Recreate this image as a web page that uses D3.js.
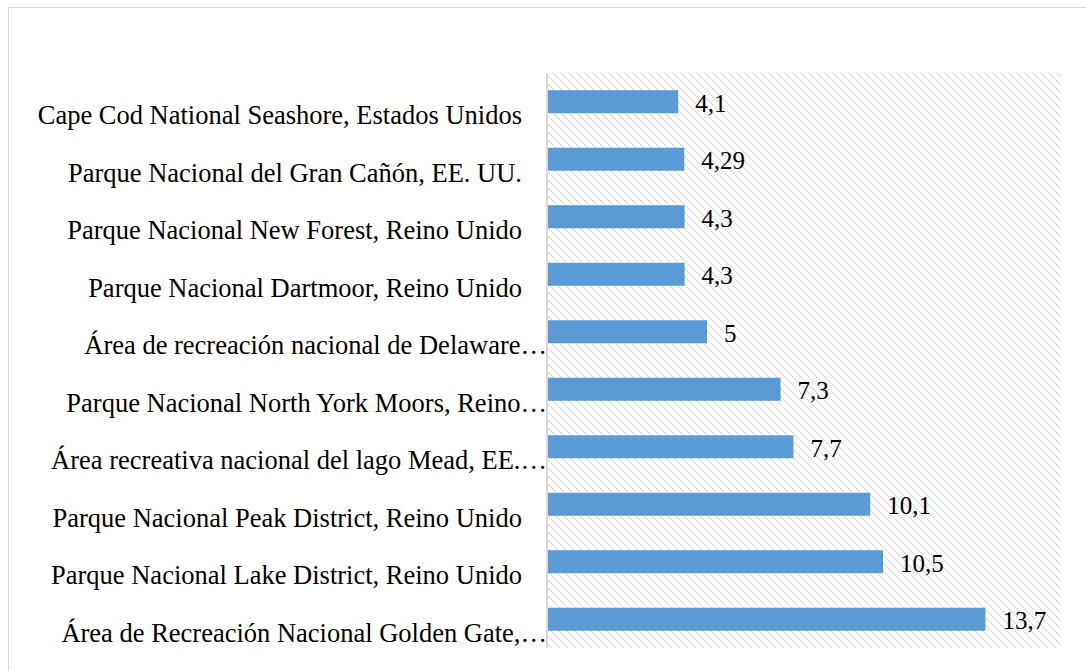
<!DOCTYPE html>
<html>
<head>
<meta charset="utf-8">
<script src="https://cdn.jsdelivr.net/npm/d3@7"></script>
<style>
  html, body { margin: 0; padding: 0; background: #fff; }
  svg { display: block; }
  text { font-family: "Liberation Serif", "Times New Roman", serif; fill: #000; }
</style>
</head>
<body>
<svg id="chart" width="1086" height="671"></svg>
<script>
// Parks by annual visitors (millions), top to bottom as drawn
const categories = [
  "Cape Cod National Seashore, Estados Unidos",
  "Parque Nacional del Gran Cañón, EE. UU.",
  "Parque Nacional New Forest, Reino Unido",
  "Parque Nacional Dartmoor, Reino Unido",
  "Área de recreación nacional de Delaware…",
  "Parque Nacional North York Moors, Reino…",
  "Área recreativa nacional del lago Mead, EE.…",
  "Parque Nacional Peak District, Reino Unido",
  "Parque Nacional Lake District, Reino Unido",
  "Área de Recreación Nacional Golden Gate,…"
];
const values = [4.1, 4.29, 4.3, 4.3, 5, 7.3, 7.7, 10.1, 10.5, 13.7];
const valueLabels = ["4,1", "4,29", "4,3", "4,3", "5", "7,3", "7,7", "10,1", "10,5", "13,7"];
const xDomain = [0, 16];

const svg = d3.select("#chart");

// chart frame
svg.append("rect")
  .attr("x", 8.5).attr("y", 7.5)
  .attr("width", 1090).attr("height", 680)
  .attr("fill", "#fff")
  .attr("stroke", "#d9d9d9").attr("stroke-width", 1);

const plot = { left: 547, right: 1061, top: 73, bottom: 648 };

const x = d3.scaleLinear().domain(xDomain).range([plot.left, plot.left + 32 * xDomain[1]]);
const y = d3.scaleBand().domain(categories).range([plot.top, plot.bottom]).paddingInner(0.6).paddingOuter(0.3);

// diagonal hatch fill of the plot area
const defs = svg.append("defs");
const pat = defs.append("pattern")
  .attr("id", "hatch")
  .attr("patternUnits", "userSpaceOnUse")
  .attr("width", 8).attr("height", 8);
pat.append("rect").attr("width", 8).attr("height", 8).attr("fill", "#fff");
pat.append("path")
  .attr("d", "M-2,-2 L10,10 M-2,6 L2,10 M6,-2 L10,2")
  .attr("stroke", "#d4d4d4")
  .attr("stroke-width", 1.4)
  .attr("stroke-dasharray", "2,1.2");

svg.append("rect")
  .attr("x", plot.left).attr("y", plot.top)
  .attr("width", plot.right - plot.left).attr("height", plot.bottom - plot.top)
  .attr("fill", "url(#hatch)");

// bars
svg.append("g").selectAll("rect")
  .data(values)
  .join("rect")
  .attr("x", x(0))
  .attr("y", (d, i) => y(categories[i]))
  .attr("width", d => x(d) - x(0))
  .attr("height", y.bandwidth())
  .attr("fill", "#5b9bd5");

// category axis
const yAxis = d3.axisLeft(y).tickSize(0).tickPadding(0);
const gAxis = svg.append("g")
  .attr("transform", `translate(${plot.left},0)`)
  .call(yAxis)
  .attr("font-family", null)
  .attr("font-size", null);
gAxis.select(".domain").attr("stroke", "#d9d9d9").attr("stroke-width", 2)
  .attr("d", `M0,${plot.top}V${plot.bottom}`);
gAxis.selectAll(".tick text")
  .style("font-family", "'Liberation Serif', 'Times New Roman', serif")
  .style("font-size", "26.5px")
  .attr("fill", "#000")
  .attr("dy", "0.85em")
  .attr("x", d => d.endsWith("…") ? 0 : -25);

// value labels
svg.append("g").selectAll("text")
  .data(values)
  .join("text")
  .attr("x", d => x(d) + 17)
  .attr("y", (d, i) => y(categories[i]) + y.bandwidth() / 2)
  .attr("dy", "0.4em")
  .style("font-size", "25px")
  .text((d, i) => valueLabels[i]);
</script>
</body>
</html>
